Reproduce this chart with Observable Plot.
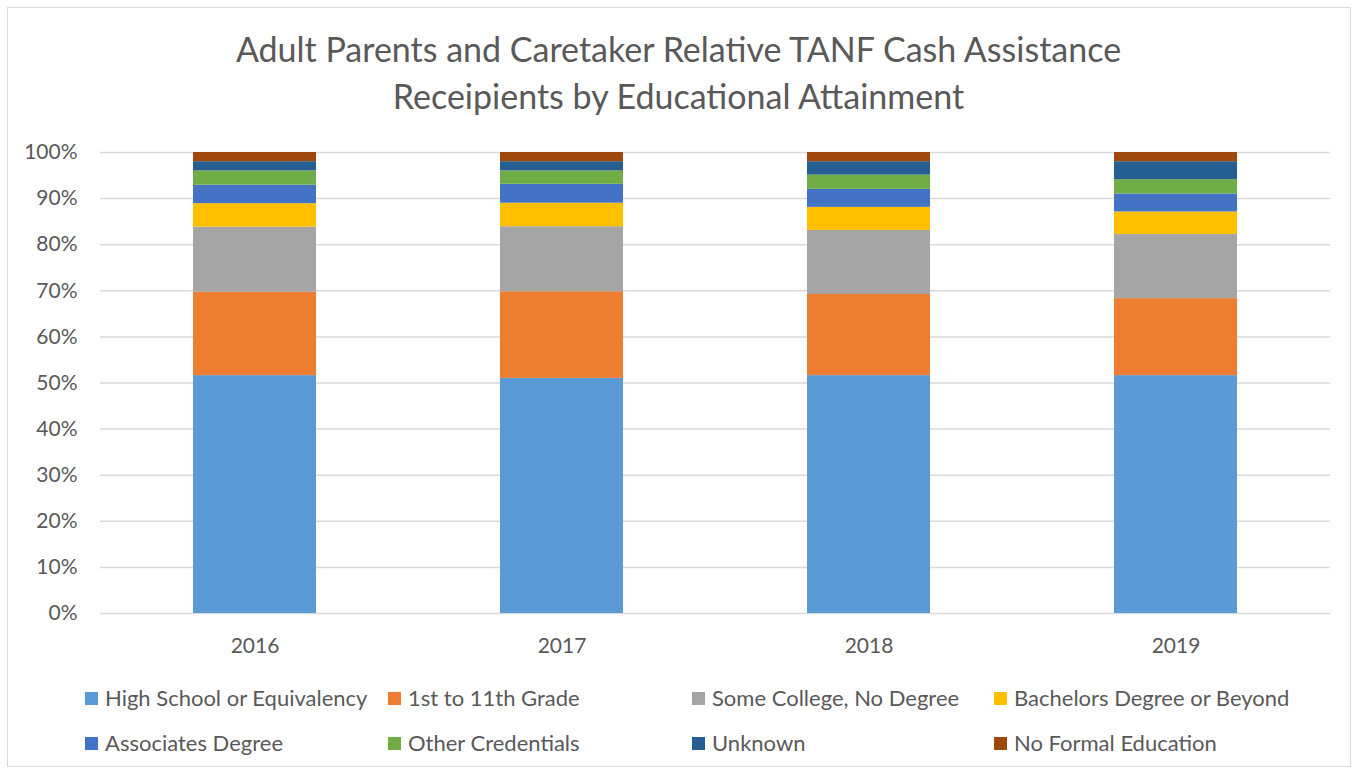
<!DOCTYPE html>
<html>
<head>
<meta charset="utf-8">
<script src="https://cdn.jsdelivr.net/npm/d3@7"></script>
<script src="https://cdn.jsdelivr.net/npm/@observablehq/plot@0.6"></script>
<style>
  html, body { margin: 0; padding: 0; background: #fff; }
  #frame { position: absolute; left: 7px; top: 7px; width: 1342px; height: 758px; border: 1px solid #d9d9d9; }
  #title { position: absolute; left: 0; top: 25px; width: 1357px; text-align: center; font-family: Lato, sans-serif; font-size: 34px; line-height: 47px; color: #595959; }
  #chart { position: absolute; left: 0; top: 120px; }
  .leg { position: absolute; font-family: Lato, sans-serif; font-size: 22px; color: #595959; white-space: nowrap; line-height: 26px; }
  .sw { position: absolute; width: 13px; height: 13px; }
</style>
</head>
<body>
<div id="frame"></div>
<div id="title">Adult Parents and Caretaker Relative TANF Cash Assistance<br>Receipients by Educational Attainment</div>
<div id="chart"></div>
<div id="legend"></div>
<script>
const years = ["2016", "2017", "2018", "2019"];
const series = [
  "High School or Equivalency",
  "1st to 11th Grade",
  "Some College, No Degree",
  "Bachelors Degree or Beyond",
  "Associates Degree",
  "Other Credentials",
  "Unknown",
  "No Formal Education"
];
const colors = ["#5B9BD5", "#ED7D31", "#A5A5A5", "#FFC000", "#4472C4", "#70AD47", "#255E91", "#9E480E"];
const highSchool   = [51.6, 51.0, 51.6, 51.6];
const grade1to11   = [18.1, 18.8, 17.6, 16.7];
const someCollege  = [14.1, 14.1, 13.9, 13.9];
const bachelors    = [5.1, 5.1, 5.0, 4.9];
const associates   = [4.0, 4.1, 3.9, 3.9];
const otherCred    = [3.1, 2.9, 3.1, 3.1];
const unknown      = [2.0, 2.0, 2.9, 3.9];
const noFormal     = [2.0, 2.0, 2.0, 2.0];
const yTicks = [0, 0.1, 0.2, 0.3, 0.4, 0.5, 0.6, 0.7, 0.8, 0.9, 1.0];

const valuesBySeries = [highSchool, grade1to11, someCollege, bachelors, associates, otherCred, unknown, noFormal];
const data = [];
series.forEach((s, i) => {
  years.forEach((y, j) => data.push({year: y, series: s, value: valuesBySeries[i][j] / 100}));
});

const chart = Plot.plot({
  width: 1357,
  height: 540,
  marginLeft: 100,
  marginRight: 27,
  marginTop: 32,
  marginBottom: 47,
  style: {fontFamily: "Lato, sans-serif", fontSize: "21px", color: "#595959", background: "transparent", overflow: "visible"},
  x: {domain: years, paddingInner: 0.6, paddingOuter: 0.3, label: null},
  y: {domain: [0, 1], label: null},
  color: {domain: series, range: colors},
  marks: [
    Plot.ruleY(yTicks, {stroke: "#d9d9d9", strokeWidth: 1.5}),
    Plot.barY(data, {x: "year", y: "value", fill: "series", order: series}),
    Plot.axisY({ticks: yTicks, tickFormat: d3.format(".0%"), tickSize: 0, tickPadding: 23, label: null, fontSize: 21, fill: "#595959"}),
    Plot.axisX({tickSize: 0, tickPadding: 25, label: null, fontSize: 21, fill: "#595959"})
  ]
});
document.getElementById("chart").appendChild(chart);

const legend = document.getElementById("legend");
const colX = [85, 388, 692, 994];
const rowY = [698, 743];
series.forEach((s, i) => {
  const c = i % 4, r = Math.floor(i / 4);
  const sw = document.createElement("div");
  sw.className = "sw";
  sw.style.left = colX[c] + "px";
  sw.style.top = (rowY[r] - 6.5) + "px";
  sw.style.background = colors[i];
  legend.appendChild(sw);
  const t = document.createElement("div");
  t.className = "leg";
  t.textContent = s;
  t.style.left = (colX[c] + 20) + "px";
  t.style.top = (rowY[r] - 13) + "px";
  legend.appendChild(t);
});
</script>
</body>
</html>
